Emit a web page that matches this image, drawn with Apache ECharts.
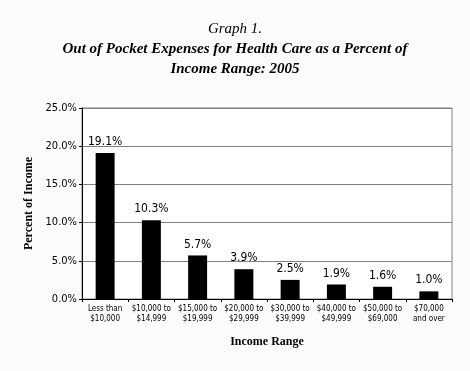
<!DOCTYPE html>
<html>
<head>
<meta charset="utf-8">
<script src="https://cdn.jsdelivr.net/npm/echarts@6/dist/echarts.min.js"></script>
<style>html,body{margin:0;padding:0;background:#fcfcfc}#c{width:470px;height:371px}</style>
</head>
<body>
<div id="c"></div>
<script>
var categories = ['Less than\n$10,000', '$10,000 to\n$14,999', '$15,000 to\n$19,999', '$20,000 to\n$29,999', '$30,000 to\n$39,999', '$40,000 to\n$49,999', '$50,000 to\n$69,000', '$70,000\nand over'];
var values = [19.1, 10.3, 5.7, 3.9, 2.5, 1.9, 1.6, 1.0];
var yTicks = [0, 5, 10, 15, 20, 25];

var chart = echarts.init(document.getElementById('c'));
chart.setOption({
  backgroundColor: '#fcfcfc',
  animation: false,
  title: [
    { text: 'Graph 1.', left: 'center', top: 17,
      textStyle: { fontFamily: 'Liberation Serif', fontStyle: 'italic', fontWeight: 'normal', fontSize: 15, color: '#000' } },
    { text: 'Out of Pocket Expenses for Health Care as a Percent of\nIncome Range: 2005', left: 'center', top: 34,
      textStyle: { fontFamily: 'Liberation Serif', fontStyle: 'italic', fontWeight: 'bold', fontSize: 15, color: '#000', lineHeight: 20 } }
  ],
  grid: { left: 82, right: 18, top: 108, bottom: 72, show: true, backgroundColor: '#ffffff', borderColor: '#808080', borderWidth: 1 },
  xAxis: {
    type: 'category', data: categories,
    name: 'Income Range', nameLocation: 'middle', nameGap: 37,
    nameTextStyle: { fontFamily: 'Liberation Serif', fontWeight: 'bold', fontSize: 12, color: '#000' },
    axisLine: { lineStyle: { color: '#000' } },
    axisTick: { show: true, length: 3, lineStyle: { color: '#000' } },
    axisLabel: { interval: 0, fontFamily: 'DejaVu Sans Condensed', fontSize: 8, color: '#000', lineHeight: 10, margin: 5 }
  },
  yAxis: {
    type: 'value', min: 0, max: 25, interval: 5,
    name: 'Percent of Income', nameLocation: 'middle', nameGap: 46, nameRotate: 90,
    nameTextStyle: { fontFamily: 'Liberation Serif', fontWeight: 'bold', fontSize: 12, color: '#000' },
    axisLine: { show: true, lineStyle: { color: '#000' } },
    axisTick: { show: true, length: 3, lineStyle: { color: '#000' } },
    splitLine: { lineStyle: { color: '#808080' } },
    axisLabel: { fontFamily: 'DejaVu Sans Condensed', fontSize: 11, color: '#000', margin: 5,
      formatter: function (v) { return yTicks.indexOf(v) >= 0 ? v.toFixed(1) + '%' : ''; } }
  },
  series: [{
    type: 'bar', data: values, barWidth: '41%',
    itemStyle: { color: '#000' },
    label: { show: true, position: 'top', distance: 5, fontFamily: 'DejaVu Sans Condensed', fontSize: 12, color: '#000',
      formatter: function (p) { return p.value.toFixed(1) + '%'; } }
  }]
});
</script>
</body>
</html>
